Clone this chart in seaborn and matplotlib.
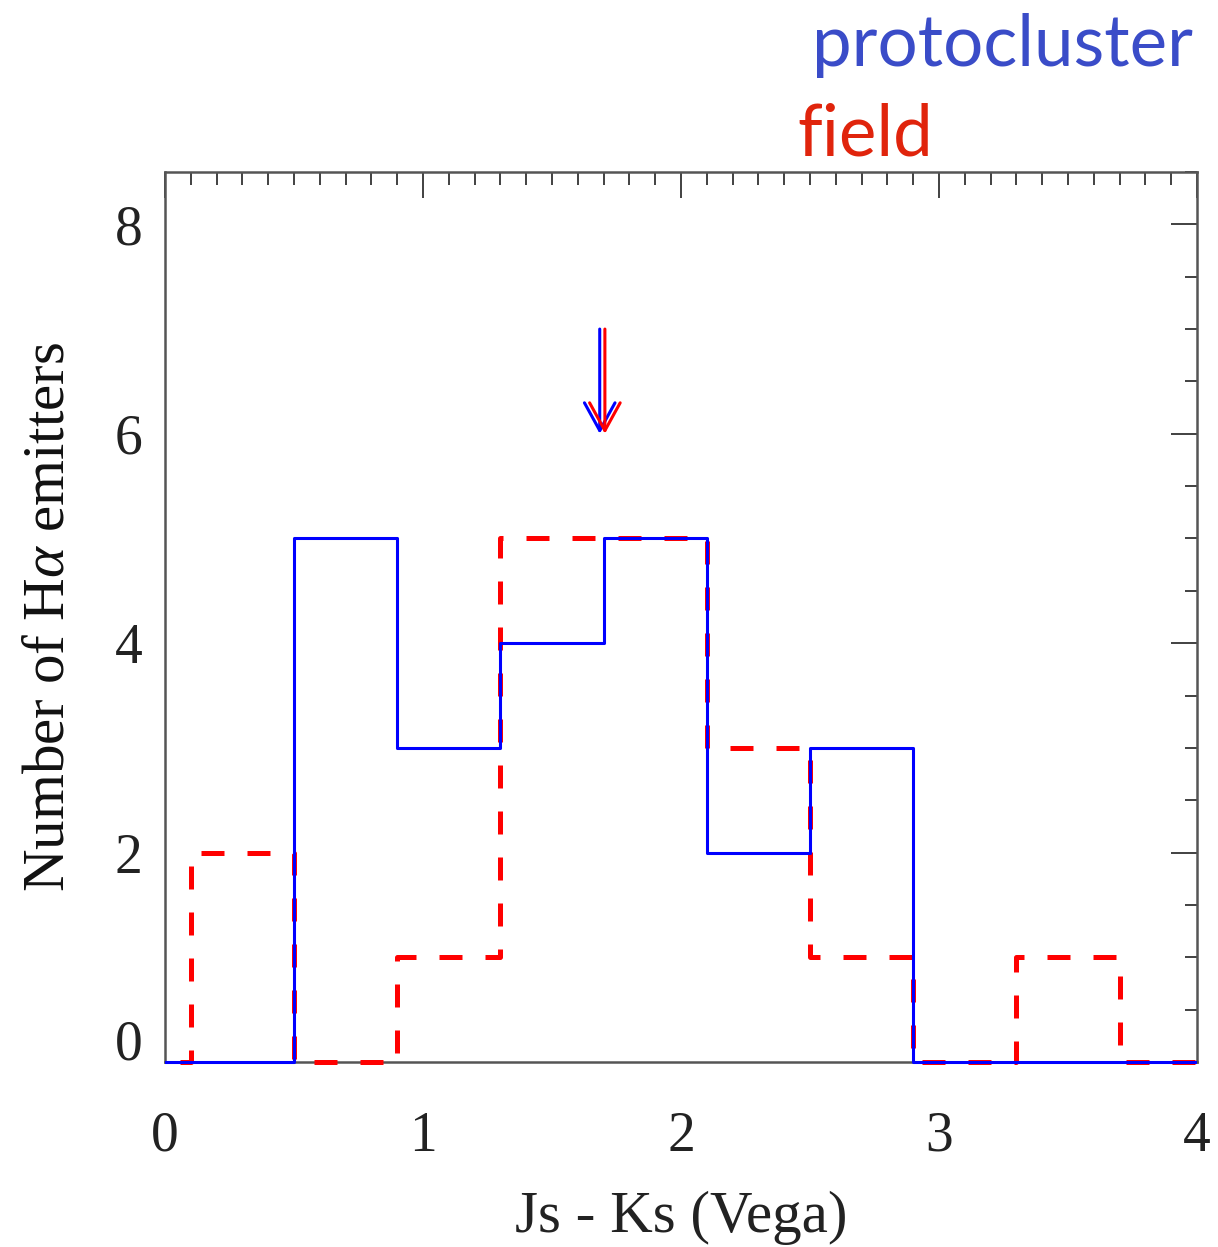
import numpy as np
import pandas as pd
import matplotlib
matplotlib.use("Agg")
import matplotlib.pyplot as plt
import seaborn as sns
from matplotlib.patches import FancyArrowPatch
import matplotlib.transforms as mtransforms

# ---- data ----
bin_edges = [-0.3, 0.1, 0.5, 0.9, 1.3, 1.7, 2.1, 2.5, 2.9, 3.3, 3.7, 4.1]
protocluster_counts = [0, 0, 5, 3, 4, 5, 2, 3, 0, 0, 0]
field_counts = [0, 2, 0, 1, 5, 5, 3, 1, 0, 1, 0]
median_protocluster = 1.685
median_field = 1.705
arrow_top, arrow_tip = 7.0, 6.0
x_ticks = [0, 1, 2, 3, 4]
y_ticks = [0, 2, 4, 6, 8]

centers = [(a + b) / 2 for a, b in zip(bin_edges[:-1], bin_edges[1:])]
df = pd.DataFrame({
    "x": centers * 2,
    "w": protocluster_counts + field_counts,
    "sample": ["protocluster"] * len(centers) + ["field"] * len(centers),
})

sns.set_style("white")
plt.rcParams["font.family"] = ["Liberation Serif", "DejaVu Serif"]
plt.rcParams["mathtext.fontset"] = "custom"
plt.rcParams["mathtext.rm"] = "Liberation Serif"
plt.rcParams["mathtext.it"] = "Liberation Serif:italic"

fig = plt.figure(figsize=(12.18, 12.47), dpi=100)
ax = fig.add_axes([165 / 1218, 1 - 1062 / 1247, (1197 - 165) / 1218, (1062 - 172) / 1247])

red = "#ff0000"
blue = "#0000ff"

sns.histplot(data=df[df["sample"] == "field"], x="x", weights="w", bins=bin_edges,
             element="step", fill=False, color=red, linewidth=3.6,
             linestyle=(0, (4.6, 4.6)), ax=ax, zorder=2.6)
sns.histplot(data=df[df["sample"] == "protocluster"], x="x", weights="w", bins=bin_edges,
             element="step", fill=False, color=blue, linewidth=2.2, ax=ax, zorder=2.7)

# clip only horizontally so the zero-level lines show at full width
clip_box = mtransforms.TransformedBbox(mtransforms.Bbox([[0, -0.05], [1, 1.05]]), ax.transAxes)
for ln in ax.lines:
    ln.set_clip_box(clip_box)

for xm, c, z in [(median_protocluster, blue, 4), (median_field, red, 5)]:
    arr = FancyArrowPatch((xm, arrow_top), (xm, arrow_tip),
                          arrowstyle="->,head_length=1.0,head_width=0.55",
                          mutation_scale=20, color=c, lw=2.2, zorder=z,
                          shrinkA=0, shrinkB=0)
    ax.add_patch(arr)

ax.set_xlim(0, 4)
ax.set_ylim(0, 8.5)
ax.set_xticks(x_ticks)
ax.set_yticks(y_ticks)
ax.set_xticks(np.arange(0, 4.001, 0.1), minor=True)
ax.set_yticks(np.arange(0, 8.501, 0.5), minor=True)
ax.tick_params(which="both", direction="in", top=True, right=True, color="#333333", width=1.3)
ax.tick_params(which="major", length=19)
ax.tick_params(which="minor", length=9)
ax.tick_params(axis="x", which="major", labelsize=40, pad=35, labelcolor="#222222")
ax.tick_params(axis="y", which="major", labelsize=40, pad=16, labelcolor="#222222")
for s in ax.spines.values():
    s.set_color("#555555")
    s.set_linewidth(1.8)

ax.set_xlabel("Js - Ks (Vega)", fontsize=42.5, labelpad=20, color="#222222")
ax.set_ylabel(r"Number of H$\alpha$ emitters", fontsize=42.5, labelpad=28, color="#111111")

# shift the y "0" label upward as in the original
lab0 = ax.get_yticklabels()[0]
lab0.set_transform(lab0.get_transform() + mtransforms.ScaledTranslation(0, 0.23, fig.dpi_scale_trans))

fig.text(1193 / 1218, 1 - 66 / 1247, "protocluster", color="#3a4cc8", fontsize=51,
         family=["Lato", "DejaVu Sans"], fontweight="normal", ha="right", va="baseline")
fig.text(797 / 1218, 1 - 156 / 1247, "field", color="#e0240c", fontsize=51,
         family=["Lato", "DejaVu Sans"], fontweight="normal", ha="left", va="baseline")

fig.savefig("out.png", dpi=100)
